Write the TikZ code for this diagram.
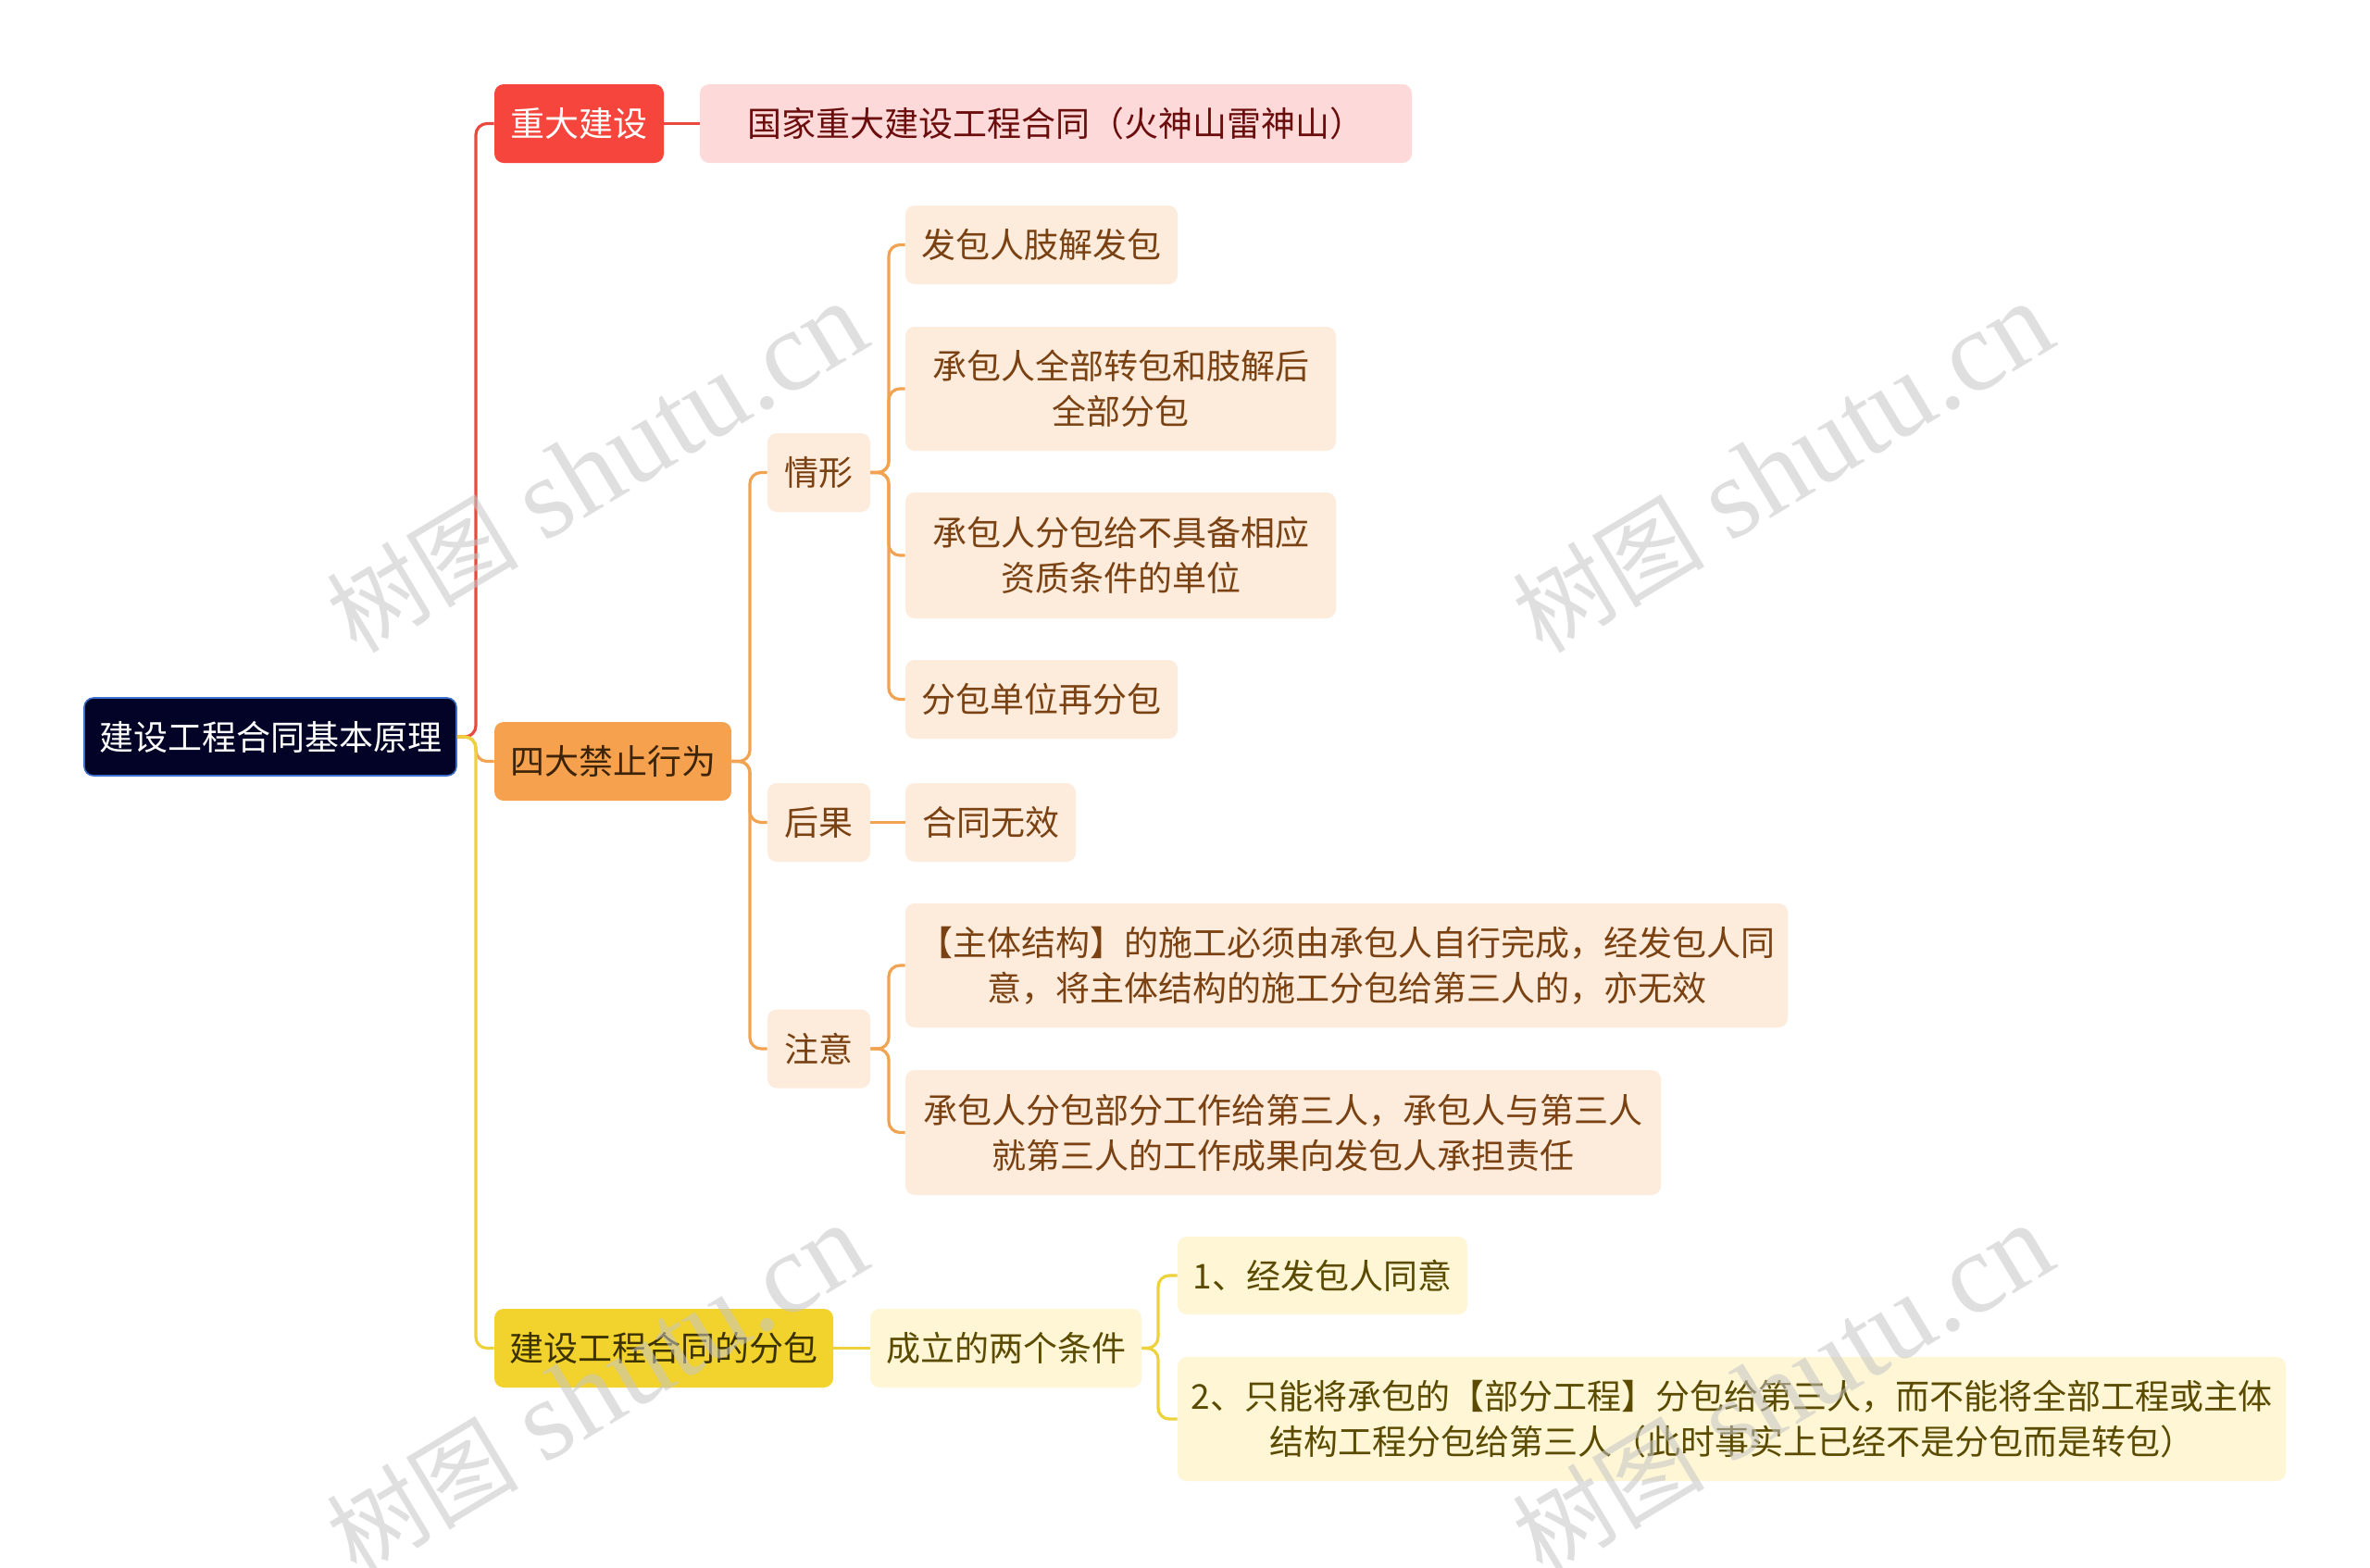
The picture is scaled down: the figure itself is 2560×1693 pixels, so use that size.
\documentclass[tikz,border=0pt]{standalone}
\usepackage{fontspec}
\setmainfont{Noto Sans CJK SC}
\newfontfamily\wmfont{Liberation Serif}
\definecolor{rootfill}{HTML}{020327}
\definecolor{rootdraw}{HTML}{3B6FC9}
\definecolor{redfill}{HTML}{F5453C}
\definecolor{pinkfill}{HTML}{FDDAD9}
\definecolor{pinktext}{HTML}{6B0D0D}
\definecolor{orfill}{HTML}{F5A14D}
\definecolor{ortext}{HTML}{3D2409}
\definecolor{lorfill}{HTML}{FDEBDC}
\definecolor{lortext}{HTML}{7A4212}
\definecolor{yefill}{HTML}{F2D22C}
\definecolor{yetext}{HTML}{3C3200}
\definecolor{lyefill}{HTML}{FEF6D5}
\definecolor{lyetext}{HTML}{5B4B00}
\definecolor{redline}{HTML}{E94A3F}
\definecolor{orline}{HTML}{F2A352}
\definecolor{yeline}{HTML}{EED23B}
\begin{document}
\begin{tikzpicture}[x=0.5pt,y=-0.5pt,
  box/.style={rounded corners=5pt, inner sep=0pt, align=center,
    font=\fontsize{18.5pt}{24.5pt}\selectfont},
  rootbox/.style={box, fill=rootfill, draw=rootdraw, line width=0.8pt, text=white},
  redbox/.style={box, fill=redfill, text=white},
  pinkbox/.style={box, fill=pinkfill, text=pinktext},
  orbox/.style={box, fill=orfill, text=ortext},
  lorbox/.style={box, fill=lorfill, text=lortext},
  yebox/.style={box, fill=yefill, text=yetext},
  lyebox/.style={box, fill=lyefill, text=lyetext},
  conn/.style={line width=1.6pt, rounded corners=6pt},
  wm/.style={text=gray!45, opacity=0.55, rotate=31, font=\fontsize{62pt}{62pt}\selectfont}
]
\useasboundingbox (0,0) rectangle (2560,1693);
\fill[white] (0,0) rectangle (2560,1693);

% nodes
\node[rootbox, minimum width=201pt, minimum height=42pt] (root) at (292,796) {建设工程合同基本原理};
\node[redbox, minimum width=91.5pt, minimum height=42.5pt] (zd) at (625.5,133.5) {重大建设};
\node[pinkbox, minimum width=384.5pt, minimum height=42.5pt] (gj) at (1140.5,133.5) {国家重大建设工程合同（火神山雷神山）};
\node[orbox, minimum width=128pt, minimum height=42.5pt] (sd) at (662,822.5) {四大禁止行为};
\node[lorbox, minimum width=55.5pt, minimum height=42.5pt] (qx) at (884.5,510.5) {情形};
\node[lorbox, minimum width=55.5pt, minimum height=42.5pt] (hg) at (884.5,888.5) {后果};
\node[lorbox, minimum width=55.5pt, minimum height=42.5pt] (zy) at (884.5,1133) {注意};
\node[lorbox, minimum width=147pt, minimum height=42.5pt] (a1) at (1125,264.5) {发包人肢解发包};
\node[lorbox, minimum width=232.5pt, minimum height=67pt] (a2) at (1210.5,420) {承包人全部转包和肢解后\\全部分包};
\node[lorbox, minimum width=232.5pt, minimum height=68pt] (a3) at (1210.5,600) {承包人分包给不具备相应\\资质条件的单位};
\node[lorbox, minimum width=147pt, minimum height=42.5pt] (a4) at (1125,755.5) {分包单位再分包};
\node[lorbox, minimum width=92pt, minimum height=42.5pt] (b1) at (1070,888.5) {合同无效};
\node[lorbox, minimum width=476.5pt, minimum height=67pt] (c1) at (1454.5,1043) {【主体结构】的施工必须由承包人自行完成，经发包人同\\意，将主体结构的施工分包给第三人的，亦无效};
\node[lorbox, minimum width=408pt, minimum height=67.5pt] (c2) at (1386,1223.5) {承包人分包部分工作给第三人，承包人与第三人\\就第三人的工作成果向发包人承担责任};
\node[yebox, minimum width=183pt, minimum height=42.5pt] (fb) at (717,1456.5) {建设工程合同的分包};
\node[lyebox, minimum width=146.5pt, minimum height=42.5pt] (cl) at (1086.5,1456.5) {成立的两个条件};
\node[lyebox, minimum width=156.5pt, minimum height=42pt] (d1) at (1428.5,1378) {1、经发包人同意};
\node[lyebox, minimum width=598.5pt, minimum height=67pt] (d2) at (1870.5,1533) {2、只能将承包的【部分工程】分包给第三人，而不能将全部工程或主体\\结构工程分包给第三人（此时事实上已经不是分包而是转包）};

% connectors
\coordinate (t0) at (514,796);
\coordinate (t1) at (810,822.5);
\coordinate (t2) at (960,510.5);
\coordinate (t3) at (960,1133);
\coordinate (t4) at (1251,1456.5);
\draw[conn, redline] (root.east) -- (t0) |- (zd.west);
\draw[conn, orline] (root.east) -- (t0) |- (sd.west);
\draw[conn, yeline] (root.east) -- (t0) |- (fb.west);
\draw[conn, redline] (zd.east) -- (gj.west);
\draw[conn, orline] (sd.east) -- (t1) |- (qx.west);
\draw[conn, orline] (sd.east) -- (t1) |- (hg.west);
\draw[conn, orline] (sd.east) -- (t1) |- (zy.west);
\draw[conn, orline] (qx.east) -- (t2) |- (a1.west);
\draw[conn, orline] (qx.east) -- (t2) |- (a2.west);
\draw[conn, orline] (qx.east) -- (t2) |- (a3.west);
\draw[conn, orline] (qx.east) -- (t2) |- (a4.west);
\draw[conn, orline] (hg.east) -- (b1.west);
\draw[conn, orline] (zy.east) -- (t3) |- (c1.west);
\draw[conn, orline] (zy.east) -- (t3) |- (c2.west);
\draw[conn, yeline] (fb.east) -- (cl.west);
\draw[conn, yeline] (cl.east) -- (t4) |- (d1.west);
\draw[conn, yeline] (cl.east) -- (t4) |- (d2.west);

% watermarks
\node[wm] (w1) at (645,506) {{\fontsize{52pt}{52pt}\selectfont 树图} {\wmfont shutu.cn}};
\node[wm] (w2) at (1926,506) {{\fontsize{52pt}{52pt}\selectfont 树图} {\wmfont shutu.cn}};
\node[wm] (w3) at (645,1502) {{\fontsize{52pt}{52pt}\selectfont 树图} {\wmfont shutu.cn}};
\node[wm] (w4) at (1926,1502) {{\fontsize{52pt}{52pt}\selectfont 树图} {\wmfont shutu.cn}};
\end{tikzpicture}
\end{document}
